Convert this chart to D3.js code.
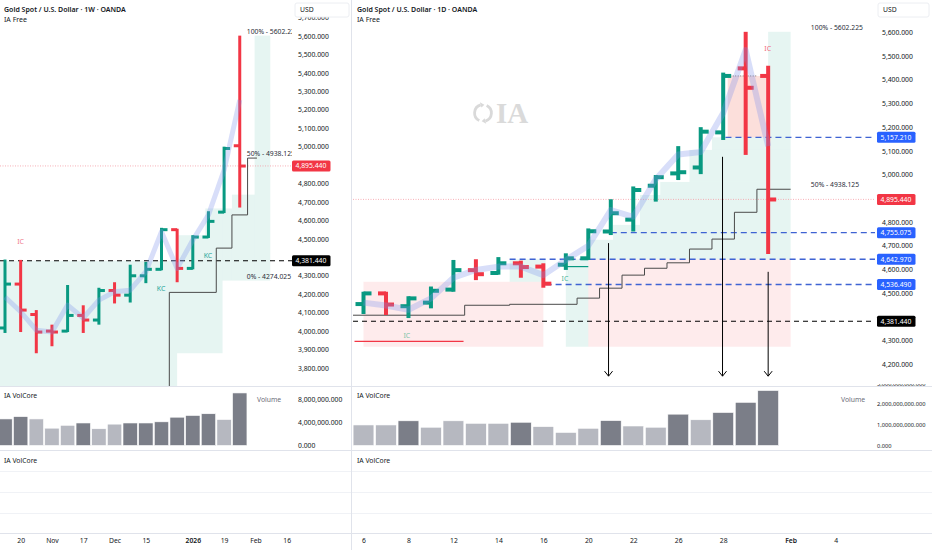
<!DOCTYPE html>
<html>
<head>
<meta charset="utf-8">
<script src="https://cdn.jsdelivr.net/npm/d3@7"></script>
<style>
  body { margin: 0; background: #fff; }
  svg { display: block; font-family: "Noto Sans", "Open Sans", sans-serif; }
</style>
</head>
<body>
<svg id="chart" width="932" height="550"></svg>
<script>
// weekly pane (left) - open, high, low, close per week
var weekBars = [
    [4017, 4388, 3990, 4255],
    [4255, 4386, 3995, 4114],
    [4090, 4114, 3880, 3995],
    [4000, 4035, 3918, 3995],
    [4000, 4250, 3995, 4085],
    [4085, 4140, 3990, 4060],
    [4060, 4235, 4035, 4220],
    [4220, 4265, 4150, 4195],
    [4195, 4360, 4155, 4300],
    [4300, 4375, 4260, 4335],
    [4335, 4560, 4330, 4550],
    [4550, 4555, 4265, 4340],
    [4340, 4520, 4335, 4510],
    [4510, 4650, 4505, 4595],
    [4645, 5000, 4640, 4990],
    [5005, 5602, 4670, 4895]
];
var weekTrend = [4185, 4105, 4005, 3995, 4141, 4071, 4168, 4213, 4222, 4322, 4539, 4340, 4494, 4630, 4873, 5253];
var weekVolume = [4.6e9, 5.0e9, 4.6e9, 3.0e9, 3.5e9, 3.9e9, 2.9e9, 3.7e9, 3.9e9, 3.9e9, 4.1e9, 4.9e9, 5.2e9, 5.5e9, 4.5e9, 9.1e9];
var weekVolDark = [1, 1, 0, 0, 0, 1, 0, 0, 1, 1, 1, 1, 1, 1, 0, 1];
var weekTickIdx = [1, 3, 5, 7, 9, 12, 14, 16, 18];
var weekTickLabels = ['20', 'Nov', '17', 'Dec', '15', '2026', '19', 'Feb', '16'];
// 4,400 and 4,900 sit under the price tags, so they are left out
var weekPriceTicks = [3800, 3900, 4000, 4100, 4200, 4300, 4500, 4600, 4700, 4800, 5000, 5100, 5200, 5300, 5400, 5500, 5600, 5700];
var weekVolTicks = [0, 4e9, 8e9];
var weekVolTickLabels = ['0.000', '4,000,000.000', '8,000,000.000'];
var weekSteps = [[10.5, 3600], [10.5, 4210], [13.5, 4450], [14.5, 4630], [15.5, 4938.125], [16.1, 4938.125]];
// from index, to index, top price, bottom price
var weekZones = [
    [-0.5, 11, 4381.44, 3650],
    [11, 12.8, 4520, 3880],
    [12.8, 13.9, 4665, 3880],
    [13.9, 14.5, 4665, 4274],
    [14.5, 15.95, 4740, 4274],
    [15.95, 16.95, 5602.225, 4274]
];
var weekMarks = [
    {i: 1, v: 4484, t: 'IC', c: '#ef7b8a'},
    {i: 9.97, v: 4232, t: 'KC', c: '#26a69a'},
    {i: 12.97, v: 4412, t: 'KC', c: '#26a69a'}
];

// daily pane (right)
var dayBars = [
    [4454, 4506, 4412, 4499],
    [4499, 4506, 4408, 4452],
    [4445, 4487, 4395, 4478],
    [4460, 4528, 4436, 4510],
    [4515, 4640, 4506, 4597],
    [4597, 4643, 4555, 4580],
    [4585, 4652, 4578, 4626],
    [4626, 4637, 4565, 4610],
    [4612, 4626, 4523, 4540],
    [4620, 4668, 4598, 4647],
    [4647, 4773, 4640, 4761],
    [4760, 4896, 4745, 4837],
    [4810, 4950, 4760, 4935],
    [4953, 4998, 4886, 4989],
    [5005, 5120, 4977, 5010],
    [5030, 5200, 5002, 5181],
    [5178, 5430, 5146, 5416],
    [5448, 5602, 5083, 5366],
    [5416, 5459, 4665, 4895]
];
var dayTrend = [4460, 4448, 4430, 4478, 4565, 4598, 4612, 4612, 4576, 4640, 4700, 4850, 4822, 4980, 5085, 5095, 5260, 5525, 5120];
var dayVolume = [0.99e9, 0.99e9, 1.19e9, 0.88e9, 1.19e9, 1.07e9, 1.07e9, 1.12e9, 0.91e9, 0.63e9, 0.83e9, 1.20e9, 0.94e9, 0.88e9, 1.51e9, 1.24e9, 1.59e9, 2.08e9, 2.65e9];
var dayVolDark = [0, 0, 1, 0, 0, 0, 0, 1, 0, 0, 0, 1, 0, 0, 1, 0, 1, 1, 1];
var dayTickIdx = [0, 2, 4, 6, 8, 10, 12, 14, 16, 19, 21];
var dayTickLabels = ['6', '8', '12', '14', '16', '20', '22', '26', '28', 'Feb', '4'];
var dayPriceTicks = [4200, 4300, 4500, 4600, 4700, 4800, 5000, 5100, 5200, 5300, 5400, 5500, 5600];
var dayVolTicks = [0, 1e9, 2e9, 3e9];
var dayVolTickLabels = ['0.000', '1,000,000,000.000', '2,000,000,000.000', '3,000,000,000.000'];
var daySteps = [[-0.5, 4407], [4.5, 4449], [6.5, 4453], [9.5, 4479], [10.5, 4521], [11.5, 4576], [12.5, 4605],
    [13.5, 4628], [14.5, 4686], [15.5, 4728], [16.5, 4841], [17.5, 4938.125], [19.0, 4938.125]];
var dayPinkZones = [
    [0, 8, 4548, 4274],
    [10, 19, 4642.97, 4274]
];
var dayMintZones = [
    [6.5, 8.1, 4642.97, 4548],
    [9, 10, 4642.97, 4274],
    [10, 19, 4725, 4642.97],
    [11.1, 19, 4788, 4725],
    [12.3, 19, 4914, 4788],
    [13.2, 19, 4969, 4914],
    [14.5, 19, 5104, 4969],
    [15.5, 19, 5157.21, 5104],
    [18, 19, 5602.225, 5157.21]
];
var dayPeakZone = [16.2, 17.9, 5416, 5157.21];
var dayMarks = [
    {i: 1.93, v: 4323, t: 'IC', c: '#7cc4a8'},
    {i: 8.96, v: 4560, t: 'IC', c: '#4cb59a'},
    {i: 17.98, v: 5531, t: 'IC', c: '#ef6b7b'}
];
var blueLevels = [5157.21, 4755.075, 4642.97, 4536.49];
var blueFrom = [16.1, 11.0, 6.5, 8.1];
var dayArrows = [[10.9, 4711], [15.97, 5075], [18.0, 4590]];
var arrowEnd = 4150;
var icLine = [-0.4, 4.45, 4297];
var kcLine = [9.05, 10.0, 4612];

var fibLevels = [5602.225, 4938.125, 4274.025];
var fibLabels = ['100% - 5602.225', '50% - 4938.125', '0% - 4274.025'];
var lastPrice = 4895.44;
var supportPrice = 4381.44;

var GREEN = '#089981', RED = '#f23645', BLUE = '#2962ff', INK = '#131722', LINE = '#e0e3eb';
var svg = d3.select('#chart');

var panes = [{
    id: 'w',
    title: 'Gold Spot / U.S. Dollar · 1W · OANDA',
    left: 0, right: 292, axisX: 298, usd: [295, 349], boxX: 292, volLabelX: 257,
    x: d3.scaleLinear().domain([0, 18]).range([5, 286.7]),
    y: d3.scaleLinear().domain([3800, 5600]).range([368, 36]),
    vy: d3.scaleLinear().domain([0, 8e9]).range([445.5, 399.3]),
    barW: 3, tick: 6, trendW: 5, volW: 14.4, volFont: 6.8,
    bars: weekBars, trend: weekTrend, vol: weekVolume, volDark: weekVolDark,
    ticks: weekPriceTicks, volTicks: weekVolTicks, volTickLabels: weekVolTickLabels,
    timeIdx: weekTickIdx, timeLabels: weekTickLabels,
    steps: weekSteps, marks: weekMarks, fibAt: 15.45, fibShown: [0, 1, 2]
}, {
    id: 'd',
    title: 'Gold Spot / U.S. Dollar · 1D · OANDA',
    left: 353, right: 875, axisX: 882, usd: [878, 929], boxX: 877, volLabelX: 841,
    x: d3.scaleLinear().domain([0, 21]).range([363.5, 835.6]),
    y: d3.scaleLinear().domain([4200, 5600]).range([364.3, 32.3]),
    vy: d3.scaleLinear().domain([0, 2e9]).range([445.5, 404]),
    barW: 4, tick: 8, trendW: 6, volW: 20.8, volFont: 5.7,
    bars: dayBars, trend: dayTrend, vol: dayVolume, volDark: dayVolDark,
    ticks: dayPriceTicks, volTicks: dayVolTicks, volTickLabels: dayVolTickLabels,
    timeIdx: dayTickIdx, timeLabels: dayTickLabels,
    steps: daySteps, marks: dayMarks, fibAt: 19.9, fibShown: [0, 1]
}];

var defs = svg.append('defs');

function zoneRect(g, zones, p, fill) {
    g.selectAll(null).data(zones).enter().append('rect')
        .attr('x', function (d) { return p.x(d[0]); })
        .attr('width', function (d) { return p.x(d[1]) - p.x(d[0]); })
        .attr('y', function (d) { return p.y(d[2]); })
        .attr('height', function (d) { return p.y(d[3]) - p.y(d[2]); })
        .attr('fill', fill);
}

function hLine(g, p, v, x0, x1, stroke, dash, w) {
    g.append('line')
        .attr('x1', x0).attr('x2', x1)
        .attr('y1', p.y(v)).attr('y2', p.y(v))
        .attr('stroke', stroke)
        .attr('stroke-width', w || 1)
        .attr('stroke-dasharray', dash);
}

function priceBox(g, p, v, fill, txt) {
    var yy = p.y(v);
    g.append('rect')
        .attr('x', p.boxX).attr('y', yy - 5.5)
        .attr('width', 38.5).attr('height', 11)
        .attr('rx', 1.5).attr('fill', fill);
    g.append('text')
        .attr('x', p.boxX + 3.5).attr('y', yy).attr('dy', '0.34em')
        .attr('font-size', 6.8).attr('fill', '#fff')
        .text(txt);
}

function drawPane(p) {
    var fmt = d3.format(',.3f');

    defs.append('clipPath').attr('id', 'clip-' + p.id)
        .append('rect').attr('x', p.left).attr('y', 0)
        .attr('width', p.right - p.left).attr('height', 386);
    defs.append('clipPath').attr('id', 'vclip-' + p.id)
        .append('rect').attr('x', p.left).attr('y', 384)
        .attr('width', 932).attr('height', 66);

    var plot = svg.append('g').attr('clip-path', 'url(#clip-' + p.id + ')');

    if (p.id === 'd') {
        // watermark: ring of two arrows + "IA"
        var wm = plot.append('g').attr('transform', 'translate(483,113)');
        var arc = d3.arc().innerRadius(7).outerRadius(9.8);
        wm.selectAll('path.ring').data([[0.45, 2.85], [3.6, 6.0]]).enter().append('path')
            .attr('class', 'ring')
            .attr('d', function (d) { return arc({startAngle: d[0], endAngle: d[1]}); })
            .attr('fill', '#d9d9d9');
        wm.selectAll('path.head').data([2.85, 6.0]).enter().append('path')
            .attr('class', 'head')
            .attr('d', function (a) {
                var r0 = 5.6, r1 = 11.2, a1 = a + 0.45;
                var px = function (r, t) { return (r * Math.sin(t)).toFixed(2); };
                var py = function (r, t) { return (-r * Math.cos(t)).toFixed(2); };
                return 'M' + px(r0, a) + ',' + py(r0, a) + 'L' + px(r1, a) + ',' + py(r1, a) +
                    'L' + px(8.4, a1) + ',' + py(8.4, a1) + 'Z';
            })
            .attr('fill', '#d9d9d9');
        plot.append('text')
            .attr('x', 496).attr('y', 123)
            .attr('font-family', '"Liberation Serif", serif')
            .attr('font-weight', 700).attr('font-size', 29)
            .attr('fill', '#dadada').text('IA');

        zoneRect(plot, dayPinkZones, p, 'rgba(242,54,69,0.1)');
        zoneRect(plot, dayMintZones, p, 'rgba(8,153,129,0.1)');
        zoneRect(plot, [dayPeakZone], p, 'rgba(240,110,90,0.22)');
    } else {
        zoneRect(plot, weekZones, p, 'rgba(8,153,129,0.1)');
    }

    hLine(plot, p, lastPrice, p.left, p.right, '#f59aa3', '1,1.5', 0.8);
    hLine(plot, p, supportPrice, p.left, p.right, '#000', '5,4', 1.2);

    if (p.id === 'd') {
        blueLevels.forEach(function (v, i) {
            hLine(plot, p, v, p.x(blueFrom[i]), p.right, '#3f63d3', '6,4', 1.3);
        });
        hLine(plot, p, dayPeakZone[2], p.x(16.2), p.x(17.5), '#555', '1,1.5', 0.8);
        hLine(plot, p, icLine[2], p.x(icLine[0]), p.x(icLine[1]), RED, null, 1.2);
        hLine(plot, p, kcLine[2], p.x(kcLine[0]), p.x(kcLine[1]), GREEN, null, 1.2);
    }

    // trailing step line
    plot.append('path')
        .datum(p.steps)
        .attr('d', d3.line()
            .x(function (d) { return p.x(d[0]); })
            .y(function (d) { return p.y(d[1]); })
            .curve(d3.curveStepAfter))
        .attr('fill', 'none')
        .attr('stroke', '#4a4a4a')
        .attr('stroke-width', 1);

    // OHLC bars
    var bar = plot.selectAll('g.bar').data(p.bars).enter().append('g')
        .attr('class', 'bar')
        .attr('stroke', function (d) { return d[3] >= d[0] ? GREEN : RED; })
        .attr('stroke-width', p.barW);
    bar.append('line')
        .attr('x1', function (d, i) { return p.x(i); })
        .attr('x2', function (d, i) { return p.x(i); })
        .attr('y1', function (d) { return p.y(d[1]); })
        .attr('y2', function (d) { return p.y(d[2]); });
    bar.append('line')
        .attr('x1', function (d, i) { return p.x(i) - p.tick; })
        .attr('x2', function (d, i) { return p.x(i); })
        .attr('y1', function (d) { return p.y(d[0]); })
        .attr('y2', function (d) { return p.y(d[0]); });
    bar.append('line')
        .attr('x1', function (d, i) { return p.x(i); })
        .attr('x2', function (d, i) { return p.x(i) + p.tick; })
        .attr('y1', function (d) { return p.y(d[3]); })
        .attr('y2', function (d) { return p.y(d[3]); });

    // translucent swing line over the bars
    plot.append('path')
        .datum(p.trend)
        .attr('d', d3.line()
            .x(function (d, i) { return p.x(i); })
            .y(function (d) { return p.y(d); }))
        .attr('fill', 'none')
        .attr('stroke', '#7d92ec')
        .attr('stroke-opacity', 0.3)
        .attr('stroke-width', p.trendW)
        .attr('stroke-linejoin', 'round');

    if (p.id === 'd') {
        var arr = plot.selectAll('g.arrow').data(dayArrows).enter().append('g')
            .attr('class', 'arrow')
            .attr('stroke', '#000').attr('fill', 'none').attr('stroke-width', 1);
        arr.append('path').attr('d', function (d) {
            var xx = p.x(d[0]), y0 = p.y(d[1]), y1 = p.y(arrowEnd);
            return 'M' + xx + ',' + y0 + 'L' + xx + ',' + y1 +
                'M' + (xx - 4) + ',' + (y1 - 5) + 'L' + xx + ',' + y1 + 'L' + (xx + 4) + ',' + (y1 - 5);
        });
    }

    plot.selectAll('text.mark').data(p.marks).enter().append('text')
        .attr('class', 'mark')
        .attr('x', function (d) { return p.x(d.i); })
        .attr('y', function (d) { return p.y(d.v); })
        .attr('dy', '0.35em')
        .attr('text-anchor', 'middle')
        .attr('font-size', 7)
        .attr('fill', function (d) { return d.c; })
        .text(function (d) { return d.t; });

    plot.selectAll('text.fib').data(p.fibShown).enter().append('text')
        .attr('class', 'fib')
        .attr('x', p.x(p.fibAt))
        .attr('y', function (d) { return p.y(fibLevels[d]) - 2; })
        .attr('font-size', 6.8)
        .attr('fill', '#2a2e39')
        .text(function (d) { return fibLabels[d]; });

    // titles
    svg.append('text').attr('x', p.left + 4).attr('y', 10).attr('dy', '0.35em')
        .attr('font-size', 7).attr('font-weight', 600).attr('fill', INK).text(p.title);
    svg.append('text').attr('x', p.left + 4).attr('y', 20).attr('dy', '0.35em')
        .attr('font-size', 7).attr('fill', INK).text('IA Free');

    // price axis
    var ax = svg.append('g')
        .attr('transform', 'translate(' + p.axisX + ',0)')
        .call(d3.axisRight(p.y).tickValues(p.ticks).tickFormat(fmt).tickSize(0).tickPadding(0));
    ax.select('.domain').remove();
    ax.attr('font-size', 6.8).attr('font-family', null);
    ax.selectAll('text').attr('fill', INK);

    svg.append('rect')
        .attr('x', p.usd[0]).attr('y', 3)
        .attr('width', p.usd[1] - p.usd[0]).attr('height', 14)
        .attr('rx', 2).attr('fill', '#fff').attr('stroke', '#eceef2');
    svg.append('text').attr('x', p.usd[0] + 5).attr('y', 10).attr('dy', '0.35em')
        .attr('font-size', 6.8).attr('fill', INK).text('USD');

    priceBox(svg, p, lastPrice, RED, fmt(lastPrice));
    if (p.id === 'd') {
        blueLevels.forEach(function (v) { priceBox(svg, p, v, BLUE, fmt(v)); });
    }
    priceBox(svg, p, supportPrice, '#000', fmt(supportPrice));

    // volume pane
    var vg = svg.append('g').attr('clip-path', 'url(#vclip-' + p.id + ')');
    vg.selectAll('rect.vol').data(p.vol).enter().append('rect')
        .attr('class', 'vol')
        .attr('x', function (d, i) { return p.x(i) - p.volW / 2; })
        .attr('width', p.volW)
        .attr('y', function (d) { return p.vy(d); })
        .attr('height', function (d) { return p.vy(0) - p.vy(d); })
        .attr('fill', function (d, i) { return p.volDark[i] ? '#7b7e88' : '#b6b8c0'; })
        .attr('stroke', '#fff').attr('stroke-width', 0.6);

    var vax = vg.append('g')
        .attr('transform', 'translate(' + (p.id === 'd' ? 877 : 298) + ',0)')
        .call(d3.axisRight(p.vy).tickValues(p.volTicks)
            .tickFormat(function (d, i) { return p.volTickLabels[i]; })
            .tickSize(0).tickPadding(0));
    vax.select('.domain').remove();
    vax.attr('font-size', p.volFont).attr('font-family', null);
    vax.selectAll('text').attr('fill', INK);

    svg.append('text').attr('x', p.left + 4).attr('y', 396).attr('dy', '0.35em')
        .attr('font-size', 6.8).attr('fill', INK).text('IA VolCore');
    svg.append('text').attr('x', p.volLabelX).attr('y', 400).attr('dy', '0.35em')
        .attr('font-size', 6.8).attr('fill', '#6a6d78').text('Volume');
    svg.append('text').attr('x', p.left + 4).attr('y', 461).attr('dy', '0.35em')
        .attr('font-size', 6.8).attr('fill', INK).text('IA VolCore');

    // time axis
    var tx = svg.append('g')
        .attr('transform', 'translate(0,535)')
        .call(d3.axisBottom(p.x).tickValues(p.timeIdx)
            .tickFormat(function (d, i) { return p.timeLabels[i]; })
            .tickSize(0).tickPadding(3));
    tx.select('.domain').remove();
    tx.attr('font-size', 6.8).attr('font-family', null);
    tx.selectAll('text').attr('fill', INK)
        .attr('font-weight', function (d, i) {
            var t = p.timeLabels[i];
            return (t === '2026' || (p.id === 'd' && t === 'Feb')) ? 600 : 400;
        });
}

// pane separators and the empty lower pane grid
var seps = [386, 450, 533];
svg.selectAll('line.sep').data(seps).enter().append('line')
    .attr('class', 'sep')
    .attr('x1', 0).attr('x2', 932)
    .attr('y1', function (d) { return d + 0.5; })
    .attr('y2', function (d) { return d + 0.5; })
    .attr('stroke', LINE);
var grid = [471, 492, 513];
svg.selectAll('line.grid').data(grid).enter().append('line')
    .attr('class', 'grid')
    .attr('x1', 0).attr('x2', 932)
    .attr('y1', function (d) { return d + 0.5; })
    .attr('y2', function (d) { return d + 0.5; })
    .attr('stroke', '#f0f2f6');
svg.append('line')
    .attr('x1', 351.5).attr('x2', 351.5).attr('y1', 0).attr('y2', 550)
    .attr('stroke', LINE);

panes.forEach(drawPane);
</script>
</body>
</html>
